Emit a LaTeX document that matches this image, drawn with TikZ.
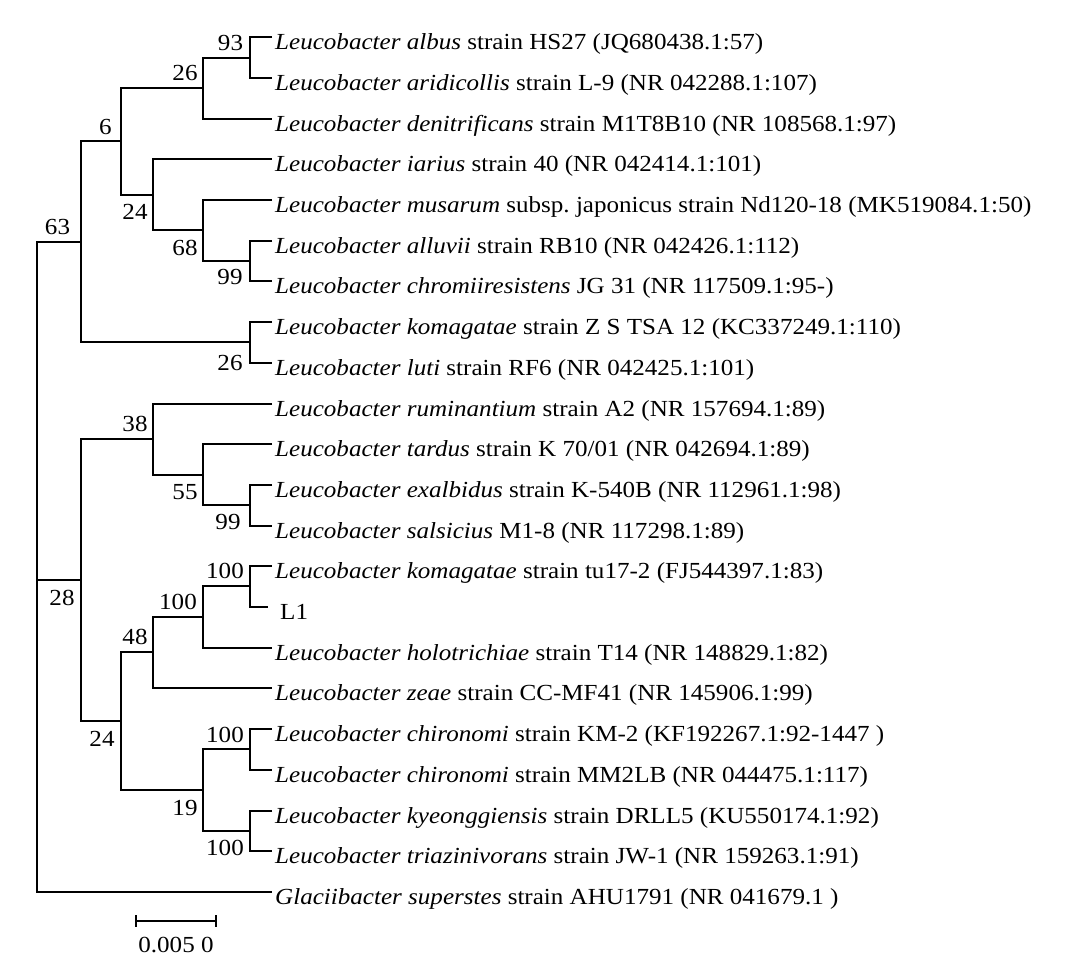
\documentclass[tikz,border=0pt]{standalone}
\usepackage{fontspec}
\setmainfont{Liberation Serif}[FakeStretch=1.09]
\usetikzlibrary{positioning}
\frenchspacing

\tikzset{
  branch/.style={line width=2pt},
  leaf/.style={anchor=west,inner sep=3pt,text height=28pt,text depth=4pt,font=\fontsize{23}{25}\selectfont},
  boot/.style={inner sep=0pt,font=\fontsize{23}{25}\selectfont}
}

\begin{document}
\begin{tikzpicture}[x=1pt,y=-1pt]
\useasboundingbox (0,0) rectangle (1067,969);
% leaves
\node[leaf] (l1) at (272,37) {\textit{Leucobacter albus} strain HS27 (JQ680438.1:57)};
\node[leaf] (l2) at (272,78) {\textit{Leucobacter aridicollis} strain L-9 (NR 042288.1:107)};
\node[leaf] (l3) at (272,119) {\textit{Leucobacter denitrificans} strain M1T8B10 (NR 108568.1:97)};
\node[leaf] (l4) at (272,159) {\textit{Leucobacter iarius} strain 40 (NR 042414.1:101)};
\node[leaf] (l5) at (272,200) {\textit{Leucobacter musarum} subsp. japonicus strain Nd120-18 (MK519084.1:50)};
\node[leaf] (l6) at (272,241) {\textit{Leucobacter alluvii} strain RB10 (NR 042426.1:112)};
\node[leaf] (l7) at (272,281) {\textit{Leucobacter chromiiresistens} JG 31 (NR 117509.1:95-)};
\node[leaf] (l8) at (272,322) {\textit{Leucobacter komagatae} strain Z S TSA 12 (KC337249.1:110)};
\node[leaf] (l9) at (272,363) {\textit{Leucobacter luti} strain RF6 (NR 042425.1:101)};
\node[leaf] (l10) at (272,404) {\textit{Leucobacter ruminantium} strain A2 (NR 157694.1:89)};
\node[leaf] (l11) at (272,444) {\textit{Leucobacter tardus} strain K 70/01 (NR 042694.1:89)};
\node[leaf] (l12) at (272,485) {\textit{Leucobacter exalbidus} strain K-540B (NR 112961.1:98)};
\node[leaf] (l13) at (272,526) {\textit{Leucobacter salsicius} M1-8 (NR 117298.1:89)};
\node[leaf] (l14) at (272,566) {\textit{Leucobacter komagatae} strain tu17-2 (FJ544397.1:83)};
\node[leaf,inner xsep=12pt] (l15) at (268,607) {L1};
\node[leaf] (l16) at (272,648) {\textit{Leucobacter holotrichiae} strain T14 (NR 148829.1:82)};
\node[leaf] (l17) at (272,688) {\textit{Leucobacter zeae} strain CC-MF41 (NR 145906.1:99)};
\node[leaf] (l18) at (272,729) {\textit{Leucobacter chironomi} strain KM-2 (KF192267.1:92-1447 )};
\node[leaf] (l19) at (272,770) {\textit{Leucobacter chironomi} strain MM2LB (NR 044475.1:117)};
\node[leaf] (l20) at (272,811) {\textit{Leucobacter kyeonggiensis} strain DRLL5 (KU550174.1:92)};
\node[leaf] (l21) at (272,851) {\textit{Leucobacter triazinivorans} strain JW-1 (NR 159263.1:91)};
\node[leaf] (l22) at (272,892) {\textit{Glaciibacter superstes} strain AHU1791 (NR 041679.1 )};
% internal nodes
\coordinate (n93) at (250,58);
\coordinate (n26a) at (203,88);
\coordinate (n99a) at (250,261);
\coordinate (n68) at (203,230);
\coordinate (n24a) at (153,195);
\coordinate (n6) at (121,141);
\coordinate (n26b) at (250,342);
\coordinate (n63) at (81,242);
\coordinate (n99b) at (250,505);
\coordinate (n55) at (203,475);
\coordinate (n38) at (153,439);
\coordinate (n100a) at (250,586);
\coordinate (n100b) at (203,617);
\coordinate (n48) at (153,652);
\coordinate (n100c) at (250,749);
\coordinate (n100d) at (250,831);
\coordinate (n19) at (203,790);
\coordinate (n24b) at (121,721);
\coordinate (n28) at (81,580);
\coordinate (root) at (37,580);
% branches
\draw[branch] (l1.west) -| (n93) |- (l2.west);
\draw[branch] (n93) -| (n26a) |- (l3.west);
\draw[branch] (l6.west) -| (n99a) |- (l7.west);
\draw[branch] (l5.west) -| (n68) |- (n99a);
\draw[branch] (l4.west) -| (n24a) |- (n68);
\draw[branch] (n26a) -| (n6) |- (n24a);
\draw[branch] (l8.west) -| (n26b) |- (l9.west);
\draw[branch] (n6) -| (n63) |- (n26b);
\draw[branch] (l12.west) -| (n99b) |- (l13.west);
\draw[branch] (l11.west) -| (n55) |- (n99b);
\draw[branch] (l10.west) -| (n38) |- (n55);
\draw[branch] (l14.west) -| (n100a) |- (l15.west);
\draw[branch] (n100a) -| (n100b) |- (l16.west);
\draw[branch] (n100b) -| (n48) |- (l17.west);
\draw[branch] (l18.west) -| (n100c) |- (l19.west);
\draw[branch] (l20.west) -| (n100d) |- (l21.west);
\draw[branch] (n100c) -| (n19) |- (n100d);
\draw[branch] (n48) -| (n24b) |- (n19);
\draw[branch] (n38) -| (n28) |- (n24b);
\draw[branch] (n63) -| (root) |- (l22.west);
\draw[branch] (root) -- (n28);
% bootstrap values
\node[boot] (b93) at (230.5,42.7) {93};
\node[boot] (b26a) at (185,73.3) {26};
\node[boot] (b6) at (105.5,126.7) {6};
\node[boot] (b63) at (57.5,226.7) {63};
\node[boot] (b24a) at (135,211.7) {24};
\node[boot] (b68) at (185,247.7) {68};
\node[boot] (b99a) at (230,277.3) {99};
\node[boot] (b26b) at (230,362.7) {26};
\node[boot] (b38) at (135,424) {38};
\node[boot] (b55) at (185,491.7) {55};
\node[boot] (b99b) at (228,521.7) {99};
\node[boot] (b100a) at (225,570.7) {100};
\node[boot] (b100b) at (178,602.3) {100};
\node[boot] (b28) at (62,598.3) {28};
\node[boot] (b48) at (135,637) {48};
\node[boot] (b24b) at (102,739) {24};
\node[boot] (b100c) at (225,735) {100};
\node[boot] (b19) at (185,807.7) {19};
\node[boot] (b100d) at (225,847.7) {100};
% scale bar
\coordinate (s0) at (136,921);
\coordinate (s1) at (216,921);
\draw[line width=1.2pt] (s0) -- (s1);
\draw[line width=1.2pt] ([yshift=6pt]s0) -- ([yshift=-6pt]s0);
\draw[line width=1.2pt] ([yshift=6pt]s1) -- ([yshift=-6pt]s1);
\node[boot,below=16pt of s0,xshift=40pt] (scale) {0.005 0};
\end{tikzpicture}
\end{document}
